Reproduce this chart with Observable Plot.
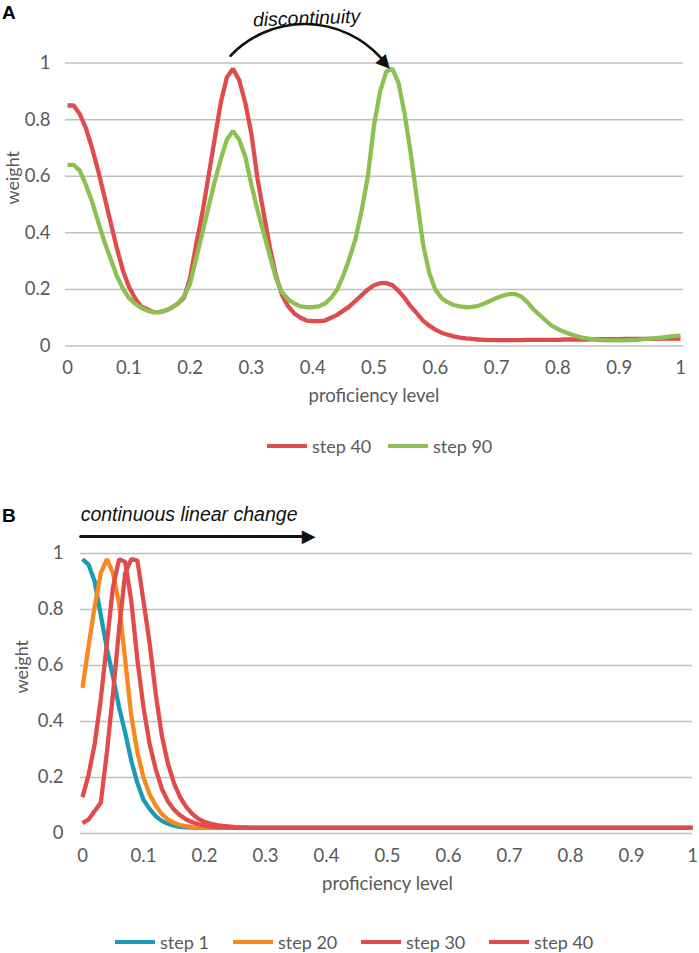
<!DOCTYPE html>
<html><head><meta charset="utf-8">
<script src="https://cdn.jsdelivr.net/npm/d3@7"></script>
<script src="https://cdn.jsdelivr.net/npm/@observablehq/plot@0.6"></script>
<style>
body{margin:0;background:#fff;}
#wrap{position:relative;width:699px;height:953px;overflow:hidden;font-family:Lato,sans-serif;background:#fff;}
#wrap svg{position:absolute;left:0;}
.panel{position:absolute;left:2px;font:bold 19px "Liberation Sans",Arial,sans-serif;line-height:19px;color:#000}
.leg{position:absolute;display:flex;align-items:center;font:18px Lato,sans-serif;color:#595959;white-space:nowrap;height:20px}
.sw{display:inline-block;width:40px;height:4px;margin-right:5px}
</style></head>
<body><div id="wrap"></div>
<script>
// ---------- data ----------
const xA = [0,0.01,0.02,0.03,0.04,0.05,0.06,0.07,0.08,0.09,0.1,0.11,0.12,0.13,0.14,0.15,0.16,0.17,0.18,0.19,0.2,0.21,0.22,0.23,0.24,0.25,0.26,0.27,0.28,0.29,0.3,0.31,0.32,0.33,0.34,0.35,0.36,0.37,0.38,0.39,0.4,0.41,0.42,0.43,0.44,0.45,0.46,0.47,0.48,0.49,0.5,0.51,0.52,0.53,0.54,0.55,0.56,0.57,0.58,0.59,0.6,0.61,0.62,0.63,0.64,0.65,0.66,0.67,0.68,0.69,0.7,0.71,0.72,0.73,0.74,0.75,0.76,0.77,0.78,0.79,0.8,0.81,0.82,0.83,0.84,0.85,0.86,0.87,0.88,0.89,0.9,0.91,0.92,0.93,0.94,0.95,0.96,0.97,0.98,0.99,1];
const step40A = [0.85,0.85,0.82,0.77,0.70,0.62,0.53,0.44,0.35,0.27,0.21,0.17,0.14,0.13,0.12,0.12,0.125,0.135,0.15,0.17,0.24,0.36,0.47,0.60,0.73,0.86,0.95,0.98,0.94,0.86,0.75,0.59,0.47,0.35,0.25,0.18,0.14,0.115,0.10,0.09,0.088,0.088,0.09,0.10,0.11,0.125,0.14,0.16,0.18,0.20,0.215,0.222,0.223,0.215,0.195,0.17,0.14,0.115,0.09,0.072,0.058,0.047,0.04,0.034,0.03,0.027,0.025,0.023,0.022,0.021,0.021,0.021,0.021,0.021,0.021,0.022,0.022,0.022,0.022,0.022,0.022,0.023,0.023,0.023,0.023,0.023,0.024,0.024,0.024,0.024,0.024,0.025,0.025,0.025,0.025,0.025,0.025,0.026,0.026,0.026,0.026];
const step90A = [0.64,0.64,0.62,0.57,0.51,0.44,0.37,0.31,0.25,0.205,0.17,0.15,0.135,0.125,0.12,0.12,0.125,0.135,0.15,0.175,0.22,0.31,0.40,0.49,0.58,0.66,0.73,0.76,0.73,0.67,0.57,0.48,0.40,0.32,0.24,0.19,0.165,0.15,0.14,0.137,0.137,0.14,0.15,0.17,0.20,0.25,0.31,0.38,0.48,0.60,0.78,0.90,0.97,0.98,0.93,0.82,0.68,0.52,0.36,0.26,0.20,0.17,0.155,0.145,0.14,0.137,0.138,0.142,0.15,0.16,0.17,0.178,0.183,0.184,0.175,0.155,0.13,0.11,0.09,0.072,0.06,0.05,0.042,0.035,0.03,0.026,0.023,0.021,0.02,0.02,0.02,0.02,0.021,0.022,0.024,0.026,0.028,0.03,0.033,0.035,0.037];

const xB = [0,0.01,0.02,0.03,0.04,0.05,0.06,0.07,0.08,0.09,0.1,0.11,0.12,0.13,0.14,0.15,0.16,0.17,0.18,0.19,0.2,0.21,0.22,0.23,0.24,0.25,0.26,0.27,0.28,0.29,0.3,0.4,0.5,0.6,0.7,0.8,0.9,1];
const step1B  = [0.98,0.96,0.90,0.78,0.66,0.56,0.45,0.36,0.26,0.18,0.12,0.088,0.062,0.045,0.035,0.028,0.024,0.022,0.021,0.02,0.02,0.02,0.02,0.02,0.02,0.02,0.02,0.02,0.02,0.02,0.02,0.02,0.02,0.02,0.02,0.02,0.02,0.02];
const step20B = [0.52,0.67,0.81,0.93,0.98,0.93,0.82,0.62,0.42,0.29,0.20,0.14,0.10,0.07,0.05,0.038,0.03,0.026,0.023,0.021,0.02,0.02,0.02,0.02,0.02,0.02,0.02,0.02,0.02,0.02,0.02,0.02,0.02,0.02,0.02,0.02,0.02,0.02];
const step30B = [0.13,0.21,0.32,0.48,0.68,0.88,0.98,0.97,0.83,0.62,0.45,0.32,0.23,0.16,0.115,0.085,0.065,0.05,0.04,0.033,0.028,0.025,0.023,0.022,0.021,0.02,0.02,0.02,0.02,0.02,0.02,0.02,0.02,0.02,0.02,0.02,0.02,0.02];
const step40B = [0.037,0.05,0.08,0.11,0.29,0.50,0.73,0.93,0.98,0.975,0.83,0.68,0.50,0.35,0.25,0.18,0.13,0.095,0.07,0.052,0.042,0.035,0.03,0.027,0.025,0.023,0.022,0.021,0.02,0.02,0.02,0.02,0.02,0.02,0.02,0.02,0.02,0.02];

const xTicks = [0,0.1,0.2,0.3,0.4,0.5,0.6,0.7,0.8,0.9,1];
const xTickLabels = ["0","0.1","0.2","0.3","0.4","0.5","0.6","0.7","0.8","0.9","1"];
const yTicks = [0,0.2,0.4,0.6,0.8,1];
const yTickLabels = ["0","0.2","0.4","0.6","0.8","1"];

const seriesA = ["step 40","step 90"];
const colorsA = ["#E04B4B","#8CC152"];
const seriesB = ["step 1","step 20","step 30","step 40"];
const colorsB = ["#1A9BB5","#F7891F","#E04B4B","#E04B4B"];

const xAxisTitle = "proficiency level";
const yAxisTitle = "weight";
const noteA = {text:"discontinuity", x:0.39, y:1.158, x1:0.266, y1:1.026, x2:0.511, y2:1.019, hx:0.527, hy:0.982};
const noteB = {text:"continuous linear change", x:-0.003, y:1.139, x1:-0.003, y1:1.061, x2:0.362, y2:1.061, hx:0.382, hy:1.061};

// ---------- helpers ----------
const gray = "#595959";
const FS = 18.5;
const toRows = (xs, ys) => xs.map((x,i)=>({x, w: ys[i]}));
const xfmt = d => xTickLabels[xTicks.indexOf(d)];
const yfmt = d => yTickLabels[yTicks.indexOf(d)];
const lineOpts = c => ({x:"x", y:"w", stroke:c, strokeWidth:4.3, strokeLinejoin:"miter", strokeLinecap:"butt"});

function panel({height, mt, mb, ml, mr, series, colors, xs, note, bend, headRot, yPad, yLabDx, gridInsetL, gridInsetR, arrowW}) {
  return Plot.plot({
    width: 699, height, marginTop: mt, marginBottom: mb, marginLeft: ml, marginRight: mr,
    x: {domain:[0,1]}, y: {domain:[0,1.2]},
    style: {fontFamily:"Lato, sans-serif", fontSize: FS+"px", color: gray, background:"transparent", overflow:"visible"},
    marks: [
      Plot.ruleY(yTicks, {stroke:"#BFBFBF", strokeWidth:1.5, insetLeft:gridInsetL, insetRight:gridInsetR}),
      Plot.axisX(xTicks, {tickSize:0, tickPadding:15, tickFormat:xfmt, label:null, fontSize:FS}),
      Plot.axisY(yTicks, {tickSize:0, tickPadding:yPad, tickFormat:yfmt, label:null, fontSize:FS}),
      Plot.text([xAxisTitle], {frameAnchor:"bottom", dy: 56, fontSize:FS, fill:gray}),
      Plot.text([0.5], {y:d=>d, frameAnchor:"left", dx:yLabDx, rotate:-90, text:()=>yAxisTitle, fontSize:18, fill:gray}),
      ...series.map((s,i)=> Plot.line(toRows(xs, s), lineOpts(colors[i]))),
      Plot.arrow([note], {x1:"x1", y1:"y1", x2:"x2", y2:"y2", bend, headLength:0, stroke:"#111", strokeWidth:arrowW}),
      Plot.text([note], {x:"hx", y:"hy", text:()=>"\u25B6", textAnchor:"end", rotate:headRot, fontSize:18, fontFamily:"DejaVu Sans", fill:"#111"}),
      Plot.text([note], {x:"x", y:"y", text:"text", fontStyle:"italic", fontFamily:"Liberation Sans, Arial, sans-serif", fontSize:19.5, fill:"#111",
        textAnchor: note===noteB ? "start" : "middle", rotate: note===noteA ? -2 : 0})
    ]
  });
}

const wrap = document.getElementById("wrap");

const svgA = panel({height:420, mt:6, mb:74.5, ml:67, mr:19, series:[step40A, step90A], colors:colorsA, xs:xA,
  note:noteA, bend:47, headRot:48, yPad:17, yLabDx:-54, gridInsetL:-2, gridInsetR:-3, arrowW:2.6});
svgA.style.top = "0px";
wrap.appendChild(svgA);

const svgB = panel({height:400, mt:7, mb:57, ml:82, mr:7, series:[step1B, step20B, step30B, step40B], colors:colorsB, xs:xB,
  note:noteB, bend:0, headRot:0, yPad:19, yLabDx:-60, gridInsetL:-2, gridInsetR:0, arrowW:3});
svgB.style.top = "490px";
wrap.appendChild(svgB);

// panel letters
for (const [t, top] of [["A",3],["B",506]]) {
  const d = document.createElement("div"); d.className="panel"; d.textContent=t; d.style.top=top+"px"; wrap.appendChild(d);
}

// legends
function legend(labels, colors, lefts, cy) {
  labels.forEach((lab,i)=>{
    const it = document.createElement("div"); it.className="leg";
    it.style.left = lefts[i]+"px"; it.style.top = (cy-10)+"px";
    const sw = document.createElement("span"); sw.className="sw"; sw.style.background = colors[i];
    it.appendChild(sw); it.appendChild(document.createTextNode(lab));
    wrap.appendChild(it);
  });
}
legend(seriesA, colorsA, [267, 388], 446);
legend(seriesB, colorsB, [115, 233, 361, 489], 942);
</script>
</body></html>
